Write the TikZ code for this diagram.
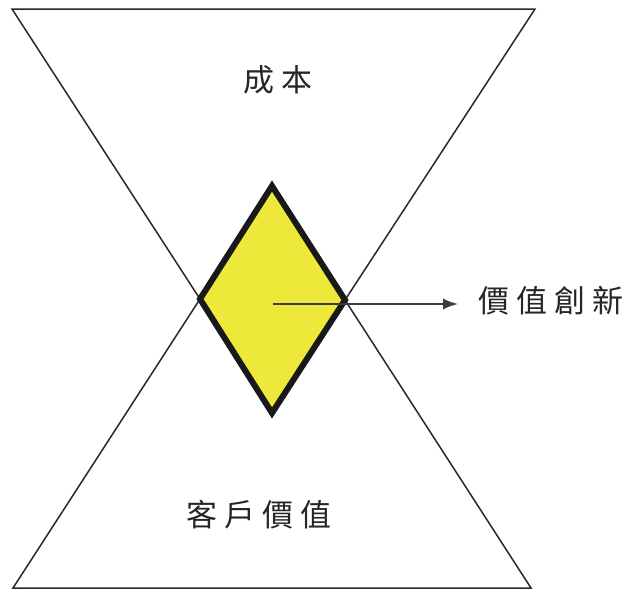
\documentclass[tikz,border=0pt]{standalone}
\usepackage{fontspec}
\newfontfamily\cjk{Noto Sans CJK TC}
\usetikzlibrary{arrows.meta}
\definecolor{dyellow}{RGB}{238,232,58}
\definecolor{outl}{RGB}{40,40,40}
\definecolor{arrg}{RGB}{60,60,60}
\tikzset{
  outline/.style={draw=outl,line width=1.5pt,line join=miter},
  diam/.style={draw=black!90,fill=dyellow,line width=6pt,line join=miter},
  lbl/.style={font=\cjk\fontsize{31}{34}\selectfont,inner sep=0pt,text=black!85},
  arr/.style={draw=arrg,line width=1.8pt,-{Latex[length=15pt,width=11pt]}}
}
\newcommand{\gp}{\hspace{7pt}}
\begin{document}
\begin{tikzpicture}[x=1pt,y=-1pt]
\useasboundingbox (0,0) rectangle (633,590);
\coordinate (tl) at (12,9);
\coordinate (tr) at (535,9);
\coordinate (bl) at (13,588);
\coordinate (br) at (531,588);
\coordinate (dl) at (200,299);
\coordinate (dr) at (345,300);
\coordinate (dt) at (272,186);
\coordinate (db) at (272,413);
\coordinate (dc) at (273,304);
\draw[outline] (tl) -- (tr) -- (dr) -- (br) -- (bl) -- (dl) -- cycle;
\draw[diam] (dt) -- (dr) -- (db) -- (dl) -- cycle;
\node[lbl,anchor=west] (vi) at (478,301) {價\gp 值\gp 創\gp 新};
\node[lbl] (cost) at (278,80) {成\gp 本};
\node[lbl] (cv) at (259,515) {客\gp 戶\gp 價\gp 值};
\draw[arr] (dc) -- ([xshift=-20pt]vi.west |- dc);
\end{tikzpicture}
\end{document}
